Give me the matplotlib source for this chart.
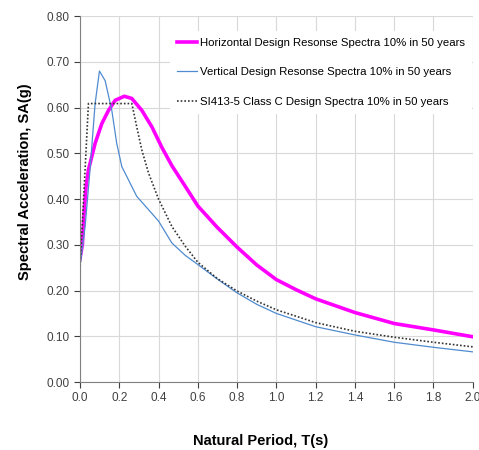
import matplotlib
matplotlib.use("Agg")
import matplotlib.pyplot as plt

plt.rcParams['font.family'] = ['Liberation Sans', 'DejaVu Sans']

# Horizontal design response spectrum
t_h = [0, 0.012, 0.022, 0.031, 0.043, 0.077, 0.111, 0.145, 0.179, 0.226, 0.264, 0.315,
       0.366, 0.417, 0.468, 0.536, 0.6, 0.695, 0.8, 0.9, 1.0, 1.1, 1.2, 1.4, 1.6, 1.8, 2.0]
sa_h = [0.27, 0.30, 0.377, 0.428, 0.464, 0.522, 0.565, 0.594, 0.616, 0.625, 0.62, 0.594,
        0.558, 0.513, 0.473, 0.428, 0.385, 0.34, 0.295, 0.256, 0.224, 0.202, 0.182, 0.152,
        0.128, 0.114, 0.099]

# Vertical design response spectrum
t_v = [0, 0.026, 0.051, 0.077, 0.099, 0.128, 0.162, 0.187, 0.213, 0.247, 0.289, 0.349,
       0.4, 0.468, 0.536, 0.6, 0.7, 0.8, 0.9, 1.0, 1.2, 1.4, 1.6, 1.8, 2.0]
sa_v = [0.253, 0.34, 0.464, 0.609, 0.68, 0.659, 0.594, 0.522, 0.471, 0.442, 0.406, 0.377,
        0.352, 0.304, 0.277, 0.257, 0.225, 0.195, 0.17, 0.15, 0.121, 0.103, 0.087, 0.076, 0.066]

# SI413-5 Class C design spectrum
t_si = [0, 0.043, 0.264, 0.289, 0.315, 0.349, 0.4, 0.468, 0.536, 0.6, 0.7, 0.8, 0.9,
        1.0, 1.2, 1.4, 1.6, 1.8, 2.0]
sa_si = [0.246, 0.609, 0.609, 0.558, 0.507, 0.457, 0.40, 0.34, 0.297, 0.262, 0.226, 0.199,
         0.177, 0.158, 0.13, 0.111, 0.098, 0.087, 0.077]

xticks = [0.0, 0.2, 0.4, 0.6, 0.8, 1.0, 1.2, 1.4, 1.6, 1.8, 2.0]
yticks = [0.0, 0.1, 0.2, 0.3, 0.4, 0.5, 0.6, 0.7, 0.8]

fig = plt.figure(figsize=(4.79, 4.5), dpi=100)
ax = fig.add_axes([0.167, 0.151, 0.82, 0.813])

ax.plot(t_h, sa_h, color='#ff00ff', lw=2.6,
        label='Horizontal Design Resonse Spectra 10% in 50 years')
ax.plot(t_v, sa_v, color='#4f8bd0', lw=0.9,
        label='Vertical Design Resonse Spectra 10% in 50 years')
ax.plot(t_si, sa_si, color='#333333', lw=1.2, linestyle=(0, (1, 1.2)),
        label='SI413-5 Class C Design Spectra 10% in 50 years')

ax.set_xlim(0, 2.0)
ax.set_ylim(0, 0.8)
ax.set_xticks(xticks)
ax.set_yticks(yticks)
ax.set_xticklabels([f'{v:.1f}' for v in xticks])
ax.set_yticklabels([f'{v:.2f}' for v in yticks])
ax.tick_params(labelsize=8.5, colors='#404040', length=4, width=0.8)
ax.grid(True, color='#d9d9d9', lw=0.8)
ax.set_axisbelow(True)
for s in ['top', 'right']:
    ax.spines[s].set_visible(False)
for s in ['left', 'bottom']:
    ax.spines[s].set_color('#808080')

ax.set_xlabel('Natural Period, T(s)', fontsize=10.5, fontweight='bold')
ax.set_ylabel('Spectral Acceleration, SA(g)', fontsize=10.5, fontweight='bold')
ax.xaxis.set_label_coords(0.459, -0.142)
ax.yaxis.set_label_coords(-0.122, 0.548)

leg = ax.legend(loc='upper left', bbox_to_anchor=(0.214, 0.975), fontsize=8.2,
                frameon=True, fancybox=False, edgecolor='none', facecolor='white',
                framealpha=1, handlelength=1.75, handletextpad=0.35, labelspacing=1.72,
                borderpad=0.6)

fig.savefig('out.png', dpi=100)
